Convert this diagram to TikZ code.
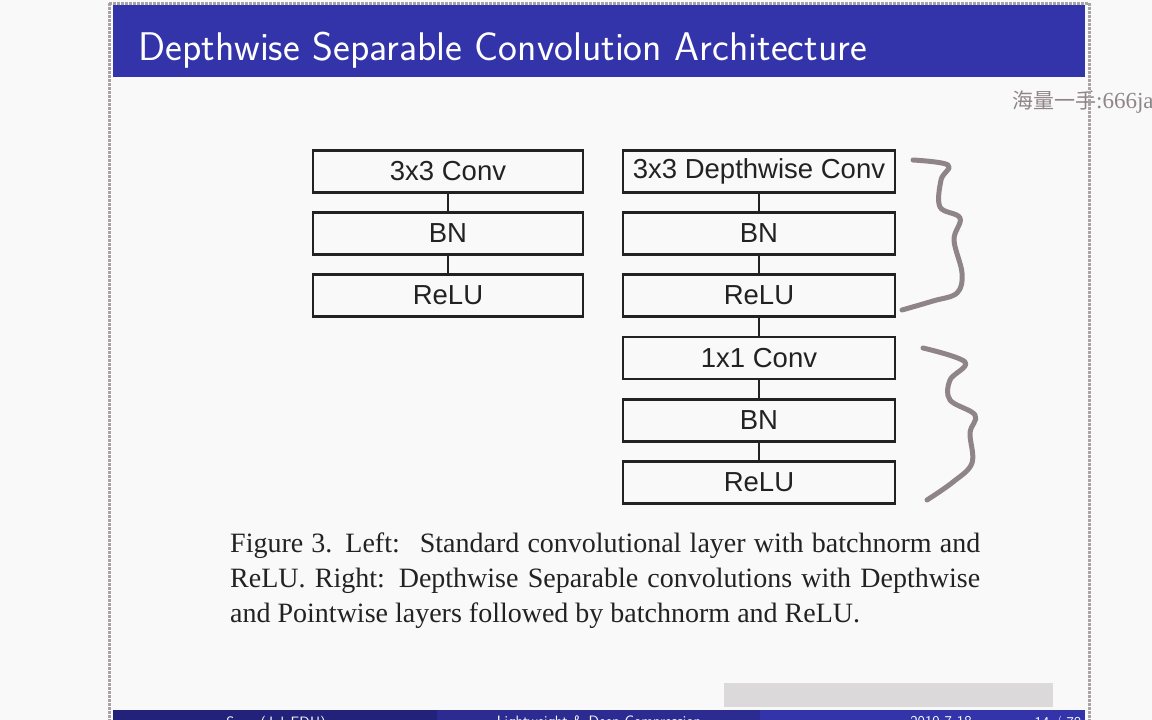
\documentclass[tikz,border=0pt]{standalone}
\usepackage{fontspec}
\newfontfamily\boxfont{Liberation Sans}
\newfontfamily\capfont{Liberation Serif}
\newfontfamily\cjkfont{Noto Sans CJK SC}
\definecolor{pagebg}{HTML}{F9F9F9}
\definecolor{barblue}{HTML}{3333AA}
\definecolor{bardark}{HTML}{22227A}
\definecolor{barmid}{HTML}{2B2B92}
\definecolor{framegray}{HTML}{A8A4A6}
\definecolor{inkgray}{HTML}{222222}
\definecolor{penmark}{HTML}{8F8589}
\definecolor{navgray}{HTML}{DCD9DA}
\tikzset{
  layerbox/.style={draw=inkgray, line width=2.8pt, fill=pagebg, minimum width=270pt,
    minimum height=42pt, inner sep=0pt, font=\boxfont\fontsize{27.5}{30}\selectfont, text=inkgray},
  link/.style={draw=inkgray, line width=2.8pt},
  bracepen/.style={draw=penmark, line width=5pt, line cap=round, line join=round},
  capline/.style={anchor=base west, inner sep=0pt, text=inkgray, font=\capfont\fontsize{28}{32}\selectfont},
  foottext/.style={anchor=north, inner sep=0pt, text=white, font=\sffamily\fontsize{15}{18}\selectfont},
  slideedge/.style={draw=framegray, line width=3pt, densely dotted}
}
\begin{document}
\begin{tikzpicture}[x=1pt, y=-1pt]
\useasboundingbox (0,0) rectangle (1152,720);
\clip (0,0) rectangle (1152,720);
\fill[pagebg] (0,0) rectangle (1152,720);

% watermark, running off the right edge
\node[anchor=west, inner sep=0pt, text=penmark]
  (mark) at (1012,102) {{\cjkfont\fontsize{21}{24}\selectfont 海量一手}{\capfont\fontsize{23}{24}\selectfont :666java.com}};

% slide frame
\draw[slideedge] (109,3) -- (109,720);
\draw[slideedge] (1089,3) -- (1089,720);
\draw[slideedge] (109,3) -- (1089,3);

% title bar
\fill[barblue] (113,5) rectangle (1085,77);
\node[anchor=base west, inner sep=0pt, text=white, font=\sffamily\fontsize{40}{44}\selectfont]
  (title) at (138,60) {Depthwise Separable Convolution Architecture};

% standard block
\node[layerbox] (a1) at (448,171.5) {3x3 Conv};
\node[layerbox] (a2) at (448,233.5) {BN};
\node[layerbox] (a3) at (448,295.5) {ReLU};
\draw[link] (a1.south) -- (a2.north);
\draw[link] (a2.south) -- (a3.north);

% depthwise separable block
\node[layerbox, minimum width=272pt] (b1) at (759,171.5) {3x3 Depthwise Conv};
\node[layerbox, minimum width=272pt] (b2) at (759,233.5) {BN};
\node[layerbox, minimum width=272pt] (b3) at (759,295.5) {ReLU};
\node[layerbox, minimum width=272pt] (b4) at (759,358) {1x1 Conv};
\node[layerbox, minimum width=272pt] (b5) at (759,420.5) {BN};
\node[layerbox, minimum width=272pt] (b6) at (759,482.5) {ReLU};
\draw[link] (b1.south) -- (b2.north);
\draw[link] (b2.south) -- (b3.north);
\draw[link] (b3.south) -- (b4.north);
\draw[link] (b4.south) -- (b5.north);
\draw[link] (b5.south) -- (b6.north);

% hand-drawn braces
\draw[bracepen] plot[smooth, tension=0.6] coordinates {
  (913,160) (948,165) (941,180) (940,207) (960,218) (954,240) (962,273) (957,293) (933,301) (902,310)};
\draw[bracepen] plot[smooth, tension=0.6] coordinates {
  (923,348) (965,362) (950,380) (950,400) (975,415) (970,433) (972,463) (953,482) (927,500)};

% caption
\node[capline] (c1) at (230,552) {\makebox[750pt][s]{Figure 3. Left: \ Standard convolutional layer with batchnorm and}};
\node[capline] (c2) at (230,587) {\makebox[750pt][s]{ReLU. Right: Depthwise Separable convolutions with Depthwise}};
\node[capline] (c3) at (230,622) {and Pointwise layers followed by batchnorm and ReLU.};

% navigation strip
\fill[navgray] (724,683) rectangle (1053,707);

% footline
\fill[bardark] (113,710) rectangle (437,720);
\fill[barmid] (437,710) rectangle (760,720);
\fill[barblue] (760,710) rectangle (1085,720);
\node[foottext] (f1) at (276,716) {Sean (JulyEDU)};
\node[foottext] (f2) at (599,716) {Lightweight \& Deep Compression};
\node[foottext] (f3) at (941,716) {2019-7-18};
\node[foottext] (f4) at (1058,716) {14 / 78};
\end{tikzpicture}
\end{document}
